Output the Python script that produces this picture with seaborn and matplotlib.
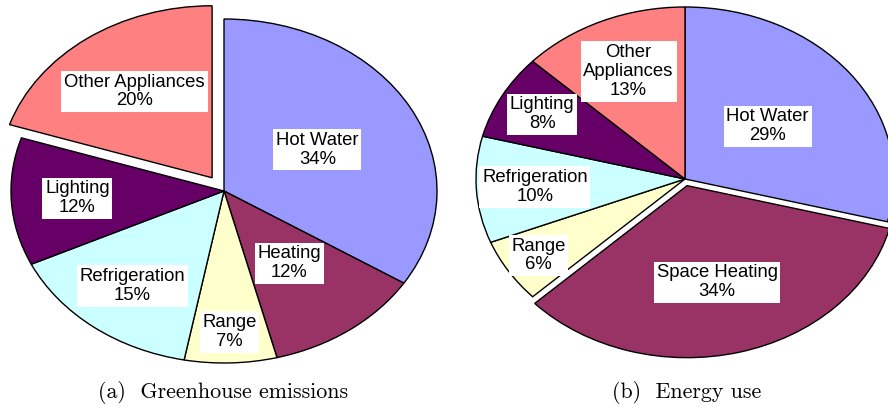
import numpy as np
import pandas as pd
import matplotlib
matplotlib.use('Agg')
from matplotlib import pyplot as plt
import seaborn as sns

# (a) greenhouse emissions
ghg_labels = ['Hot Water', 'Heating', 'Range', 'Refrigeration', 'Lighting', 'Other Appliances']
ghg_values = [34, 12, 7, 15, 12, 20]

# (b) energy use
energy_labels = ['Hot Water', 'Space Heating', 'Range', 'Refrigeration', 'Lighting', 'Other\nAppliances']
energy_values = [29, 34, 6, 10, 8, 13]

# excel-ish palette
pie_colors = ['#9999FF', '#993366', '#FFFFCC', '#CCFFFF', '#660066', '#FF8080']

sns.set_theme(style='white')
plt.rcParams['font.family'] = ['Liberation Sans', 'DejaVu Sans']

fig = plt.figure(figsize=(8.88, 4.08), dpi=100)


def draw_pie(ax, labels, values, explode, label_dist):
    wedges, _ = ax.pie(values, colors=pie_colors, startangle=90, counterclock=False,
                       explode=explode, wedgeprops=dict(edgecolor='black', linewidth=1.0))
    for w, lab, val, d in zip(wedges, labels, values, label_dist):
        mid = np.deg2rad((w.theta1 + w.theta2) / 2)
        cx, cy = w.center
        ax.text(cx + d * np.cos(mid), cy + d * np.sin(mid), f'{lab}\n{val}%',
                ha='center', va='center', fontsize=13.3, linespacing=1.15, color='black',
                bbox=dict(facecolor='white', edgecolor='none', pad=2.0))
    ax.set_aspect('auto')


# left pie: centre ~ (224,191) px, rx 213, ry 172
ax1 = fig.add_axes([0.0, 38 / 408, 0.5, 370 / 408])
draw_pie(ax1, ghg_labels, ghg_values, [0, 0, 0, 0, 0, 0.095],
         [0.5, 0.52, 0.82, 0.7, 0.69, 0.62])
ax1.set_xlim(-224 / 213, 220 / 213)
ax1.set_ylim(-179 / 172, 191 / 172)

# right pie: centre ~ (685,179) px, rx 209, ry 172
ax2 = fig.add_axes([0.5, 38 / 408, 0.5, 370 / 408])
draw_pie(ax2, energy_labels, energy_values, [0, 0.04, 0, 0, 0, 0],
         [0.5, 0.58, 0.83, 0.72, 0.78, 0.68])
ax2.set_xlim(-241 / 209, 203 / 209)
ax2.set_ylim(-191 / 172, 179 / 172)

fig.text(223 / 888, 1 - 392 / 408, '(a)  Greenhouse emissions', ha='center', va='center',
         fontsize=15.8, family='cmr10', color='black')
fig.text(687 / 888, 1 - 392 / 408, '(b)  Energy use', ha='center', va='center',
         fontsize=15.8, family='cmr10', color='black')

fig.savefig('out.png', dpi=100, facecolor='white')
